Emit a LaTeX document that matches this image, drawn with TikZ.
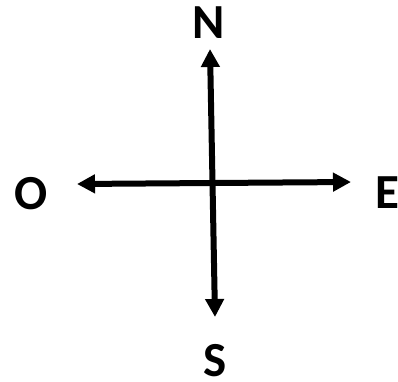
\documentclass[tikz,border=0pt]{standalone}
\usepackage{fontspec}
\setmainfont{Carlito}[BoldFont={Carlito Bold}]
\usetikzlibrary{arrows.meta}
\begin{document}
\begin{tikzpicture}[x=1pt,y=-1pt,
  lbl/.style={font=\fontsize{49}{52}\selectfont\bfseries, inner sep=0pt, anchor=center},
  axis/.style={line width=6pt, -{Triangle[length=18pt,width=18pt]}}]
\useasboundingbox (0,0) rectangle (398,381);
\node[lbl] (N) at (209,22.5) {N};
\node[lbl] (S) at (215,360.5) {S};
\node[lbl] (O) at (31.5,193.5) {O};
\node[lbl] (E) at (387,193) {E};
\coordinate (nt) at (210,49);
\coordinate (st) at (215,317);
\coordinate (ot) at (77,184);
\coordinate (et) at (351,182);
\coordinate (vm) at (212.5,183);
\coordinate (hm) at (212.5,183);
\draw[axis] (vm) -- (nt);
\draw[axis] (vm) -- (st);
\draw[axis] (hm) -- (ot);
\draw[axis] (hm) -- (et);
\end{tikzpicture}
\end{document}
